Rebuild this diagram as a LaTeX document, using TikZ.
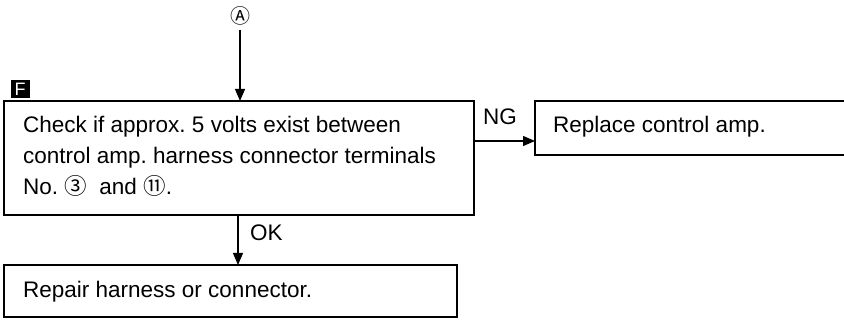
\documentclass[tikz,border=0pt]{standalone}
\usepackage{fontspec}
\setmainfont{Liberation Sans}
\newfontfamily\symfont{Noto Sans CJK JP}
\usetikzlibrary{arrows.meta}
\frenchspacing
\begin{document}
\begin{tikzpicture}[x=1pt,y=-1pt,
  box/.style={draw,line width=1.3pt},
  txt/.style={font=\fontsize{22.5}{31}\selectfont,align=left,anchor=base west,inner sep=0pt},
  arr/.style={line width=1.1pt,-{Triangle[length=12pt,width=10pt]}},
  lab/.style={font=\fontsize{22.5}{24}\selectfont,inner sep=0pt,anchor=base west}]
\useasboundingbox (0,0) rectangle (844,320);
% boxes
\draw[box] (4,101) rectangle (474,215);
\draw[box] (535,101) rectangle (846,155);
\draw[box] (4,265) rectangle (457,317);
\node[coordinate] (mainN) at (240,101) {};
\node[coordinate] (mainE) at (474,141) {};
\node[coordinate] (mainS) at (238,215) {};
\node[coordinate] (repW) at (535,141) {};
\node[coordinate] (botN) at (238,265) {};
\node[txt] (t1) at (23,195) {Check if approx. 5 volts exist between\\control amp. harness connector terminals\\No. {\symfont ③}\ \ and {\symfont ⑪}.};
\node[txt] (t2) at (553,133) {Replace control amp.};
\node[txt] (t3) at (23,298) {Repair harness or connector.};
% A marker
\node[font=\fontsize{20}{20}\selectfont\symfont,inner sep=0pt] (A) at (240,16) {Ⓐ};
\draw[arr] (240,30) coordinate (As) -- (mainN);
% F marker
\node[fill=black,text=white,font=\fontsize{18}{18}\selectfont,minimum width=19pt,minimum height=18pt,inner sep=0pt] (F) at (20,89) {F};
% connectors
\draw[arr] (mainE) -- (repW);
\node[lab] (NG) at (483,125) {NG};
\draw[arr] (mainS) -- (botN);
\node[lab] (OK) at (250,241) {OK};
\end{tikzpicture}
\end{document}
